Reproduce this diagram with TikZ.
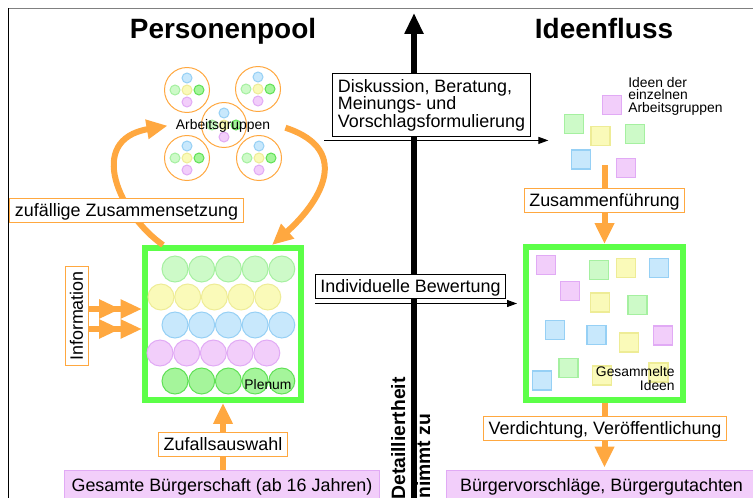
\documentclass[tikz,border=0pt]{standalone}
\usepackage{fontspec}
\setmainfont{Liberation Sans}
\usetikzlibrary{arrows.meta}
\definecolor{orangeline}{RGB}{255,168,64}
\definecolor{framegreen}{RGB}{92,255,72}
\definecolor{bluefill}{RGB}{200,232,252}
\definecolor{blueline}{RGB}{150,208,245}
\definecolor{yellowfill}{RGB}{250,250,185}
\definecolor{yellowline}{RGB}{238,236,150}
\definecolor{lightgreenfill}{RGB}{205,250,200}
\definecolor{lightgreenline}{RGB}{165,240,160}
\definecolor{greenfill}{RGB}{165,245,155}
\definecolor{greenline}{RGB}{95,225,85}
\definecolor{pinkfill}{RGB}{242,206,250}
\definecolor{pinkline}{RGB}{225,170,245}
\newcommand{\titelfont}{\fontsize{15.9}{19}\selectfont\bfseries}
\newcommand{\boxfont}{\fontsize{10.2}{10}\selectfont}
\newcommand{\kleinfont}{\fontsize{7.9}{7}\selectfont}
\newcommand{\achsenfont}{\fontsize{11}{13}\selectfont\bfseries}
\tikzset{grundbox/.style = {fill = white, line width = 0.02cm, inner xsep = 0.1cm, font = \boxfont}}
\tikzset{labelbox/.style = {grundbox, draw = orangeline, inner ysep = 0.1cm, text height = 0.26cm, text depth = 0.02cm}}
\tikzset{blackbox/.style = {labelbox, draw = black}}
\tikzset{pinkbox/.style = {labelbox, draw = pinkline, fill = pinkfill}}
\tikzset{diskussionbox/.style = {grundbox, draw = black, align = left, inner ysep = 0.12cm}}
\tikzset{greenframe/.style = {draw = framegreen, line width = 0.12cm, inner sep = 0}}
\tikzset{spot/.style = {draw = #1line, fill = #1fill, line width = 0.02cm}}
\tikzset{ring/.style = {draw = orangeline, line width = 0.02cm}}
\tikzset{fatarrow/.style = {draw = orangeline, line width = 0.12cm, -{Triangle[length = 0.42cm, width = 0.37cm]}}}
\tikzset{doublearrow/.style = {draw = orangeline, line width = 0.12cm,
                               -{Triangle[length = 0.43cm, width = 0.36cm, sep = 0pt] Triangle[length = 0.43cm, width = 0.36cm]}}}
\tikzset{thinarrow/.style = {draw = black, line width = 0.02cm, -{Triangle[length = 0.2cm, width = 0.14cm]}}}
\tikzset{axisarrow/.style = {draw = black, line width = 0.12cm, -{Triangle[length = 0.42cm, width = 0.36cm]}}}

\begin{document}
\begin{tikzpicture}[x = 0.02cm, y = -0.02cm]
      \useasboundingbox (0, 0) rectangle (753, 497);
      \clip (0, 0) rectangle (753, 497);
      \fill [white] (0, 0) rectangle (753, 497);
      \draw [line width = 0.04cm, gray] (8, 8.5) -- (760, 8.5);
      \draw [line width = 0.02cm] (8, 8) -- (8, 505);

      \node [font = \titelfont, anchor = base] (personenpool) at (223, 38) {Personenpool};
      \node [font = \titelfont, anchor = base] (ideenfluss) at (604, 38) {Ideenfluss};

      \coordinate (achsefuss) at (414, 510);
      \coordinate (achsespitze) at (414, 13);
      \draw [axisarrow] (achsefuss) -- (achsespitze);

      % Arbeitsgruppen
      \foreach \gx/\gy in {187/90, 258/89, 187/158, 259/158, 224/125} {
        \draw [ring] (\gx, \gy) circle [radius = 0.45cm];
        \draw [spot = blue] (\gx, \gy - 12) circle [radius = 0.1cm];
        \draw [spot = lightgreen] (\gx - 12, \gy) circle [radius = 0.1cm];
        \draw [spot = yellow] (\gx, \gy) circle [radius = 0.1cm];
        \draw [spot = green] (\gx + 12, \gy) circle [radius = 0.1cm];
        \draw [spot = pink] (\gx, \gy + 12) circle [radius = 0.1cm];
      }
      \node [font = \kleinfont, inner sep = 0, anchor = base] (arbeitsgruppen) at (223, 129.3) {Arbeitsgruppen};

      % Plenum
      \node [greenframe, minimum width = 3.12cm, minimum height = 3.04cm] (plenum) at (223, 324) {};
      \foreach \farbe/\row/\start in {lightgreen/269/175, yellow/297/161, blue/325/175, pink/353/160, green/381/175}
        \foreach \i in {0, ..., 4}
          \draw [spot = \farbe] (\start + 26.7 * \i, \row) circle [radius = 0.26cm];
      \node [font = \kleinfont, inner sep = 0, anchor = base] (plenumtext) at (268, 389) {Plenum};

      % Ideen der Gruppen
      \foreach \farbe/\x/\y in {pink/612/105, lightgreen/574/124, yellow/600.5/136, lightgreen/635/134, blue/581/159.5, pink/626/168}
        \draw [spot = \farbe, line width = 0.03cm] (\x - 9.5, \y - 9.5) rectangle +(19, 19);
      \node [font = \kleinfont, align = left, inner sep = 0, anchor = north west] (ideenlabel) at (628, 77) {Ideen der\\einzelnen\\Arbeitsgruppen};

      % gesammelte Ideen
      \node [greenframe, minimum width = 3.14cm, minimum height = 3.06cm] (gesammelt) at (604.5, 323.5) {};
      \foreach \farbe/\x/\y in {pink/546/265, lightgreen/599/270, yellow/626/268, blue/659/268, pink/570/291,
                                yellow/600/302.5, lightgreen/637.5/305, blue/555/330, blue/596.5/335, yellow/629/342.5,
                                pink/663/335.5, lightgreen/568.5/368, blue/542/380.5, yellow/602/375.5, yellow/658.5/372.5}
        \draw [spot = \farbe, line width = 0.03cm] (\x - 9.5, \y - 9.5) rectangle +(19, 19);
      \node [font = \kleinfont, align = right, inner sep = 0, anchor = north east] (gesammelttext) at (675, 366) {Gesammelte\\[1pt]Ideen};

      \node [pinkbox, minimum width = 6.32cm, minimum height = 0.6cm] (gesamt) at (222, 485) {Gesamte Bürgerschaft (ab 16 Jahren)};
      \node [pinkbox, minimum width = 6.22cm, minimum height = 0.6cm] (buerger) at (601.5, 485) {Bürgervorschläge, Bürgergutachten};
      \node [labelbox, rotate = 90] (information) at (77, 316) {Information};

      \draw [fatarrow] ([xshift = 0.42cm]plenum.north west) .. controls (120, 215) and (85, 140) .. ([xshift = -0.16cm]arbeitsgruppen.west);
      \draw [fatarrow] ([xshift = 0.3cm, yshift = -0.04cm]arbeitsgruppen.east) .. controls (356, 151) and (316, 206) .. ([xshift = -0.64cm]plenum.north east);
      \draw [doublearrow] ([yshift = 0.14cm]information.south) -- ([yshift = 0.14cm]information.south -| plenum.west);
      \draw [doublearrow] ([yshift = -0.26cm]information.south) -- ([yshift = -0.26cm]information.south -| plenum.west);
      \draw [fatarrow] (gesamt.north -| plenum.south) -- (plenum.south);
      \coordinate (ideensammlung) at (604.5, 165);
      \draw [fatarrow] (ideensammlung) -- (gesammelt.north);
      \draw [fatarrow, shorten > = 0.04cm] (gesammelt.south) -- (gesammelt.south |- buerger.north);

      \node [labelbox] (zufaellig) at (126.5, 210) {zufällige Zusammensetzung};
      \node [labelbox] (zufall) at (223, 444) {Zufallsauswahl};
      \node [labelbox] (zusammen) at (604.5, 200.5) {Zusammenführung};
      \node [labelbox] (verdichtung) at (605, 428) {Verdichtung, Veröffentlichung};
      \node [diskussionbox] (diskussion) at (431.5, 105) {Diskussion, Beratung,\\Meinungs- und\\Vorschlagsformulierung};
      \node [blackbox] (bewertung) at (410.5, 286) {Individuelle Bewertung};

      \draw [thinarrow] ([xshift = -0.16cm, yshift = -0.06cm]diskussion.south west) -- +(224, 0);
      \draw [thinarrow, shorten > = 0.12cm] ([yshift = -0.1cm]bewertung.south west) -- ([yshift = -0.1cm]bewertung.south west -| gesammelt.west);

      \node [font = \achsenfont, rotate = 90, anchor = base west, inner sep = 0] (detail) at (405, 500) {Detailliertheit};
      \node [font = \achsenfont, rotate = 90, anchor = base west, inner sep = 0] (nimmtzu) at (430, 499) {nimmt zu};
\end{tikzpicture}
\end{document}
